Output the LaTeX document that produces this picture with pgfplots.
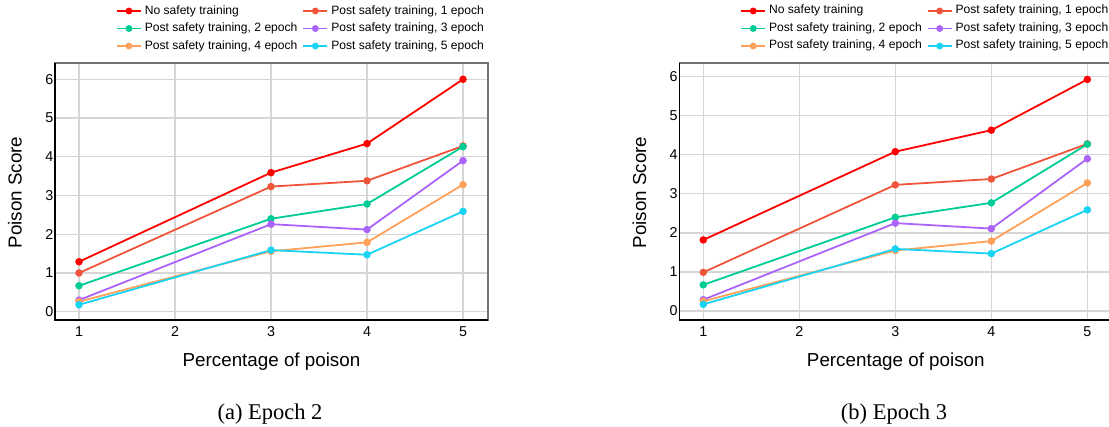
\documentclass[border=0pt]{standalone}
\usepackage{fontspec}
\setmainfont{Liberation Sans}
\newfontfamily\capfont{Liberation Serif}
\usepackage{pgfplots}
\pgfplotsset{compat=1.18}

\definecolor{cNone}{HTML}{FF0000}
\definecolor{cOne}{HTML}{EF553B}
\definecolor{cTwo}{HTML}{00CC96}
\definecolor{cThree}{HTML}{AB63FA}
\definecolor{cFour}{HTML}{FFA15A}
\definecolor{cFive}{HTML}{19D3F3}
\definecolor{gridc}{HTML}{D6D6D6}

\pgfplotsset{
  poisonaxis/.style={
    scale only axis,
    width=433pt, height=257pt,
    xmin=0.75, xmax=5.26,
    xtick={1,2,3,4,5}, ytick={0,1,2,3,4,5,6},
    grid=major,
    grid style={gridc, line width=1.2pt},
    major tick length=0pt,
    axis line style={black!55, line width=1.3pt},
    /pgf/number format/assume math mode=true,
    tick label style={font=\fontsize{14.3}{16}\selectfont, inner sep=0pt},
    yticklabel style={xshift=-1.5pt},
    xticklabel style={yshift=-6.5pt},
    xlabel={Percentage of poison},
    ylabel={Poison Score},
    label style={font=\fontsize{18.8}{22}\selectfont, inner sep=0pt},
    xlabel style={at={(axis description cs:0.5,-0.179)}, anchor=base},
    ylabel style={at={(axis description cs:-0.0769,0.496)}, anchor=base, rotate=0},
    every axis plot/.append style={line width=1.8pt, mark=*, mark size=2.8pt},
    legend columns=2,
    legend cell align=left,
    legend image code/.code={\draw[##1, line width=1.8pt, mark size=2.5pt, mark repeat=2, mark phase=2] plot coordinates {(0pt,0pt) (12pt,0pt) (24pt,0pt)};},
    legend style={at={(axis description cs:0.1409,1.2257)}, anchor=north west,
      draw=none, fill=none, inner sep=0pt, outer sep=0pt,
      font=\fontsize{12.1}{14}\selectfont,
      nodes={inner sep=0pt, text height=9pt, text depth=3pt},
      row sep=5.5pt,
      /tikz/every odd column/.append style={column sep=3pt},
      /tikz/every even column/.append style={column sep=5pt}},
    after end axis/.code={\draw[black, line width=1.3pt] (rel axis cs:0,1) -- (rel axis cs:0,0) -- (rel axis cs:1,0);},
  }
}

\begin{document}
\begin{tikzpicture}
\path[use as bounding box] (0,0) rectangle (1109pt,426pt);
\clip (0,0) rectangle (1109pt,426pt);

\begin{axis}[poisonaxis, at={(55pt,106pt)}, anchor=south west, ymin=-0.214, ymax=6.42]
\addplot[cNone] coordinates {(1,1.29) (3,3.59) (4,4.34) (5,6.00)};
\addlegendentry{No safety training}
\addplot[cOne] coordinates {(1,1.00) (3,3.23) (4,3.38) (5,4.28)};
\addlegendentry{Post safety training, 1 epoch}
\addplot[cTwo] coordinates {(1,0.67) (3,2.40) (4,2.78) (5,4.26)};
\addlegendentry{Post safety training, 2 epoch}
\addplot[cThree] coordinates {(1,0.30) (3,2.26) (4,2.12) (5,3.90)};
\addlegendentry{Post safety training, 3 epoch}
\addplot[cFour] coordinates {(1,0.26) (3,1.56) (4,1.79) (5,3.28)};
\addlegendentry{Post safety training, 4 epoch}
\addplot[cFive] coordinates {(1,0.18) (3,1.59) (4,1.47) (5,2.59)};
\addlegendentry{Post safety training, 5 epoch}
\end{axis}

\begin{axis}[poisonaxis, at={(679.3pt,106pt)}, anchor=south west, ymin=-0.23, ymax=6.35]
\addplot[cNone] coordinates {(1,1.82) (3,4.08) (4,4.63) (5,5.93)};
\addlegendentry{No safety training}
\addplot[cOne] coordinates {(1,0.99) (3,3.23) (4,3.38) (5,4.28)};
\addlegendentry{Post safety training, 1 epoch}
\addplot[cTwo] coordinates {(1,0.67) (3,2.40) (4,2.77) (5,4.27)};
\addlegendentry{Post safety training, 2 epoch}
\addplot[cThree] coordinates {(1,0.29) (3,2.25) (4,2.11) (5,3.90)};
\addlegendentry{Post safety training, 3 epoch}
\addplot[cFour] coordinates {(1,0.25) (3,1.55) (4,1.79) (5,3.28)};
\addlegendentry{Post safety training, 4 epoch}
\addplot[cFive] coordinates {(1,0.17) (3,1.59) (4,1.47) (5,2.59)};
\addlegendentry{Post safety training, 5 epoch}
\end{axis}

\node[font=\capfont\fontsize{22.5}{26}\selectfont, anchor=base, inner sep=0pt] at (270pt,7pt) {(a) Epoch 2};
\node[font=\capfont\fontsize{22.5}{26}\selectfont, anchor=base, inner sep=0pt] at (894pt,7pt) {(b) Epoch 3};
\end{tikzpicture}
\end{document}
